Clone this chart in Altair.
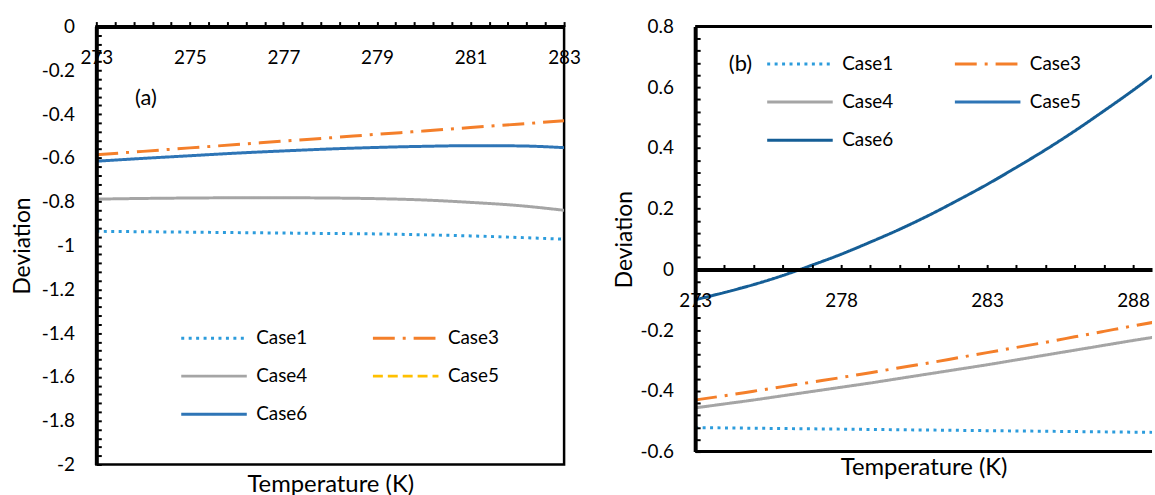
import altair as alt
import pandas as pd

# ---------------- data ----------------
cases = ["Case1", "Case3", "Case4", "Case5", "Case6"]

# panel (a)
temp_a = [273, 274, 275, 276, 277, 278, 279, 280, 281, 282, 283]
a_case1 = [-0.935, -0.937, -0.939, -0.941, -0.943, -0.945, -0.947, -0.951, -0.956, -0.963, -0.971]
a_case3 = [-0.585, -0.570, -0.554, -0.539, -0.523, -0.508, -0.492, -0.477, -0.461, -0.446, -0.430]
a_case4 = [-0.788, -0.785, -0.783, -0.782, -0.782, -0.783, -0.786, -0.792, -0.803, -0.817, -0.839]
a_case6 = [-0.615, -0.602, -0.590, -0.578, -0.568, -0.559, -0.552, -0.547, -0.544, -0.545, -0.553]

# panel (b)
temp_b = [273, 274, 275, 276, 277, 278, 279, 280, 281, 282, 283, 284, 285, 286, 287, 288, 289]
b_case1 = [-0.521, -0.522, -0.523, -0.524, -0.525, -0.526, -0.527, -0.528, -0.529, -0.530,
           -0.531, -0.532, -0.533, -0.534, -0.535, -0.536, -0.537]
b_case3 = [-0.430, -0.416, -0.401, -0.386, -0.371, -0.356, -0.340, -0.324, -0.308, -0.291,
           -0.274, -0.257, -0.240, -0.222, -0.204, -0.186, -0.169]
b_case4 = [-0.456, -0.443, -0.430, -0.416, -0.402, -0.388, -0.374, -0.359, -0.344, -0.329,
           -0.314, -0.298, -0.282, -0.266, -0.250, -0.234, -0.219]
b_case6 = [-0.100, -0.076, -0.050, -0.020, 0.014, 0.050, 0.090, 0.132, 0.178, 0.228,
           0.280, 0.336, 0.394, 0.456, 0.522, 0.590, 0.662]

colors_a = ["#2C9CDC", "#F47F2A", "#A5A5A5", "#FFC000", "#2E75B6"]
dashes_a = [[3, 4.5], [22, 8, 3, 8], [1, 0], [10, 5], [1, 0]]
colors_b = ["#2C9CDC", "#F47F2A", "#A5A5A5", "#2E75B6", "#155E96"]
dashes_b = [[3, 4.5], [22, 8, 3, 8], [1, 0], [1, 0], [1, 0]]

# axis tick positions
xa_ticks = [round(273 + 0.4 * i, 1) for i in range(26)]
ya_ticks = [round(-2 + 0.04 * i, 2) for i in range(51)]
xb_ticks = list(range(273, 289))
yb_ticks = [round(-0.6 + 0.04 * i, 2) for i in range(36)]

# ---------------- tables ----------------
def long_table(temps, series):
    rows = []
    for name, vals in series.items():
        for t, v in zip(temps, vals):
            rows.append({"T": t, "Dev": v, "case": name})
    return pd.DataFrame(rows)

df_a = long_table(temp_a, {"Case1": a_case1, "Case3": a_case3, "Case4": a_case4, "Case6": a_case6})
df_b = long_table(temp_b, {"Case1": b_case1, "Case3": b_case3, "Case4": b_case4, "Case6": b_case6})

FONT = "Lato"
W1, H1 = 471, 441
W2, H2 = 460, 428

ylab = "abs(datum.value*5 - round(datum.value*5)) < 0.001 ? toString(round(datum.value*10)/10) : ''"
xlab_a = "abs((datum.value-273)/2 - round((datum.value-273)/2)) < 0.001 ? toString(round(datum.value)) : ''"
xlab_b = "(round(datum.value)-273) % 5 == 0 ? toString(round(datum.value)) : ''"


def x_axis(values, expr, offset, title_y, width):
    return alt.Axis(orient="top", offset=offset, values=values, tickCount=200, labelExpr=expr,
                    tickSize=5, tickWidth=2, tickColor="black",
                    domainWidth=4, domainColor="black",
                    labelPadding=-36, labelBaseline="middle", labelAlign="center",
                    labelFont=FONT, labelFontSize=19, labelColor="black",
                    labelOverlap=False, labelFlush=False, grid=False, zindex=1,
                    title="Temperature (K)", titleFont=FONT, titleFontSize=24,
                    titleFontWeight="normal", titleColor="black",
                    titleX=width / 2, titleY=title_y, titleAlign="center",
                    titleBaseline="middle")


def y_axis(values, width, height, title_x):
    return alt.Axis(orient="right", offset=-width, values=values, tickCount=200, labelExpr=ylab,
                    tickSize=5, tickWidth=2, tickColor="black",
                    domainWidth=4, domainColor="black",
                    labelPadding=-27, labelAlign="right", labelBaseline="middle",
                    labelFont=FONT, labelFontSize=19, labelColor="black",
                    labelOverlap=False, labelFlush=False, grid=False, zindex=1,
                    title="Deviation", titleFont=FONT, titleFontSize=23,
                    titleFontWeight="normal", titleColor="black",
                    titleAngle=270, titleX=title_x, titleY=height / 2,
                    titleAlign="center", titleBaseline="middle")


def legend(x, y, row_pad, col_pad):
    return alt.Legend(title=None, orient="none", legendX=x, legendY=y, columns=2,
                      direction="horizontal", columnPadding=col_pad, rowPadding=row_pad,
                      symbolType="M-3,0H3", symbolSize=484, symbolStrokeWidth=3,
                      labelOffset=30, labelFont=FONT, labelFontSize=19,
                      labelColor="black")


# ---------------- panel (a) ----------------
xa_scale = alt.Scale(domain=[273, 283], nice=False, zero=False)
ya_scale = alt.Scale(domain=[-2, 0], nice=False, zero=False)
leg_a = legend(106, 301, 15.5, 59)

lines_a = alt.Chart(df_a).mark_line(strokeWidth=3, clip=True, interpolate="monotone").encode(
    x=alt.X("T:Q", scale=xa_scale, axis=x_axis(xa_ticks, xlab_a, 0, H1 + 20, W1),
            title="Temperature (K)"),
    y=alt.Y("Dev:Q", scale=ya_scale, axis=y_axis(ya_ticks, W1, H1, -74), title="Deviation"),
    color=alt.Color("case:N", scale=alt.Scale(domain=cases, range=colors_a), legend=leg_a),
    strokeDash=alt.StrokeDash("case:N", scale=alt.Scale(domain=cases, range=dashes_a),
                              legend=leg_a),
    order=alt.Order("T:Q"),
)

lab_a = alt.Chart(pd.DataFrame({"T": [274.06], "Dev": [-0.325], "txt": ["(a)"]})).mark_text(
    font=FONT, fontSize=22, color="black").encode(
    x=alt.X("T:Q", title="Temperature (K)"),
    y=alt.Y("Dev:Q", title="Deviation"),
    text="txt:N")

panel_a = alt.layer(lines_a, lab_a).properties(width=W1, height=H1)

# ---------------- panel (b) ----------------
xb_scale = alt.Scale(domain=[273, 288.65], nice=False, zero=False)
yb_scale = alt.Scale(domain=[-0.6, 0.8], nice=False, zero=False)
y0 = H2 * 0.8 / 1.4
leg_b = legend(93, 25, 15.5, 55)

lines_b = alt.Chart(df_b).mark_line(strokeWidth=3, clip=True, interpolate="monotone").encode(
    x=alt.X("T:Q", scale=xb_scale, axis=x_axis(xb_ticks, xlab_b, -y0, H2 - y0 + 16, W2),
            title="Temperature (K)"),
    y=alt.Y("Dev:Q", scale=yb_scale, axis=y_axis(yb_ticks, W2, H2, -71), title="Deviation"),
    color=alt.Color("case:N", scale=alt.Scale(domain=cases, range=colors_b), legend=leg_b),
    strokeDash=alt.StrokeDash("case:N", scale=alt.Scale(domain=cases, range=dashes_b),
                              legend=leg_b),
    order=alt.Order("T:Q"),
)

frame_b = alt.Chart(pd.DataFrame({"Dev": [0.8, -0.6]})).mark_rule(
    color="black", strokeWidth=3).encode(y=alt.Y("Dev:Q", title="Deviation"))

lab_b = alt.Chart(pd.DataFrame({"T": [274.55], "Dev": [0.676], "txt": ["(b)"]})).mark_text(
    font=FONT, fontSize=22, color="black").encode(
    x=alt.X("T:Q", title="Temperature (K)"),
    y=alt.Y("Dev:Q", title="Deviation"),
    text="txt:N")

panel_b = alt.layer(lines_b, frame_b, lab_b).properties(
    width=W2, height=H2, view=alt.ViewBackground(stroke="transparent"))

chart = alt.hconcat(panel_a, panel_b, spacing=30).resolve_scale(
    color="independent", strokeDash="independent", x="independent", y="independent"
).properties(
    padding={"left": 10, "top": 14, "right": 0, "bottom": 0},
    background="white",
).configure_view(stroke="black", strokeWidth=2.5)

chart.save("out.html", embed_options={"renderer": "svg", "actions": False})
